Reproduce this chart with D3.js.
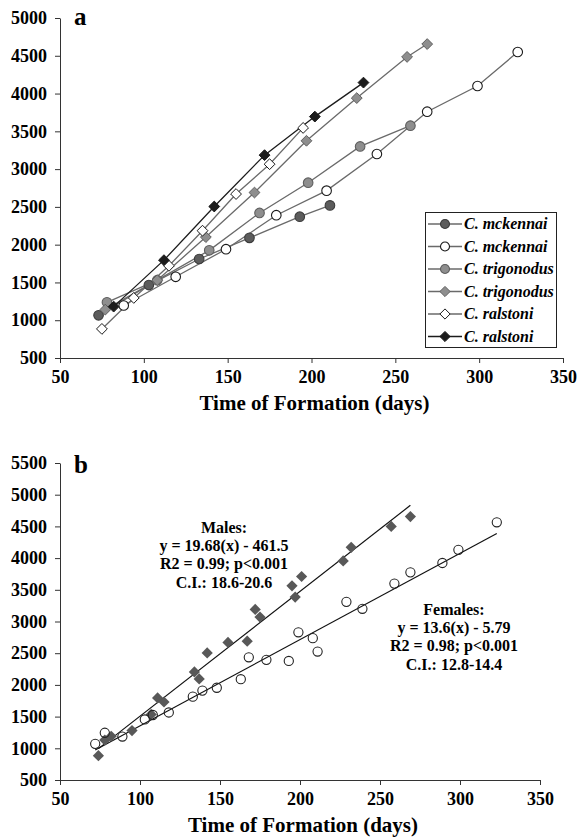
<!DOCTYPE html>
<html>
<head>
<meta charset="utf-8">
<script src="https://cdn.jsdelivr.net/npm/d3@7"></script>
<style>
  body { margin: 0; background: #fff; }
  svg { display: block; font-family: "Liberation Serif", "Times New Roman", serif; }
  svg text { font-family: "Liberation Serif", "Times New Roman", serif; }
</style>
</head>
<body>
<svg id="chart" width="577" height="839"></svg>
<script>
// ---- data ----
// panel a: growth series, [days, value]
const mckennaiFilled = [[73,1065],[103,1465],[133,1810],[163,2090],[193,2370],[211,2520]];
const mckennaiOpen = [[88,1195],[119,1575],[149,1940],[179,2390],[209,2715],[239,3200],[269,3760],[299,4100],[323,4550]];
const trigonodusCircle = [[78,1237],[108,1530],[139,1925],[169,2420],[198,2820],[229,3300],[259,3575]];
const trigonodusDiamond = [[77,1140],[108,1530],[137,2100],[166,2690],[197,3375],[227,3940],[257,4485],[269,4655]];
const ralstoniOpen = [[75,885],[94,1295],[115,1720],[135,2185],[155,2670],[175,3065],[195,3545]];
const ralstoniFilled = [[82,1180],[112,1795],[142,2505],[172,3185],[202,3695],[231,4145]];
const legendNames = ["C. mckennai","C. mckennai","C. trigonodus","C. trigonodus","C. ralstoni","C. ralstoni"];

// panel b: pooled males / females with fitted lines
const males = [[74,884],[78,1130],[82,1190],[95,1280],[107,1535],[111,1795],[115,1730],[134,2205],[137,2095],[142,2505],
  [155,2670],[167,2690],[172,3190],[175,3070],[195,3563],[197,3385],[201,3710],[227,3955],[232,4170],[257,4500],[269,4655]];
const females = [[72,1070],[78,1245],[89,1185],[103,1455],[108,1525],[118,1565],[133,1815],[139,1910],[148,1955],[163,2090],
  [168,2435],[179,2395],[193,2378],[199,2830],[208,2737],[211,2526],[229,3310],[239,3200],[259,3598],[269,3775],
  [289,3923],[299,4130],[323,4565]];
const maleFit = [19.68, -461.5];
const femaleFit = [13.6, -5.79];
const maleText = ["Males:", "y = 19.68(x) - 461.5", "R2 = 0.99; p<0.001", "C.I.: 18.6-20.6"];
const femaleText = ["Females:", "y = 13.6(x) - 5.79", "R2 = 0.98; p<0.001", "C.I.: 12.8-14.4"];

const xTicks = [50,100,150,200,250,300,350];
const yTicksA = d3.range(500, 5001, 500);
const yTicksB = d3.range(500, 5501, 500);
const xTitle = "Time of Formation (days)";

// ---- styles ----
const seriesA = [mckennaiFilled, mckennaiOpen, trigonodusCircle, trigonodusDiamond, ralstoniOpen, ralstoniFilled];
const shapes = ["circle","circle","circle","diamond","diamond","diamond"];
const fills = ["#5c5c5c","#ffffff","#8e8e8e","#8e8e8e","#ffffff","#1c1c1c"];
const strokes = ["#3c3c3c","#1a1a1a","#5e5e5e","#5e5e5e","#1a1a1a","#1a1a1a"];
const lineCols = ["#6a6a6a","#6a6a6a","#6a6a6a","#6a6a6a","#6a6a6a","#1c1c1c"];

const svg = d3.select("#chart");

function diamond(s) {
  return "M0," + (-s) + "L" + s + ",0L0," + s + "L" + (-s) + ",0Z";
}

function marker(g, shape, fill, stroke, size) {
  if (shape == "circle") {
    g.append("circle").attr("r", size).attr("fill", fill).attr("stroke", stroke).attr("stroke-width", 1.1);
  } else {
    g.append("path").attr("d", diamond(size + 0.6)).attr("fill", fill).attr("stroke", stroke).attr("stroke-width", 1);
  }
}

function drawAxes(x, y, yTicks, label, labelY) {
  const xAxis = svg.append("g")
    .attr("transform", "translate(0," + y.range()[0] + ")")
    .call(d3.axisBottom(x).tickValues(xTicks).tickFormat(d3.format("d"))
      .tickSize(5).tickSizeOuter(0).tickPadding(7));
  const yAxis = svg.append("g")
    .attr("transform", "translate(" + x.range()[0] + ",0)")
    .call(d3.axisLeft(y).tickValues(yTicks).tickFormat(d3.format("d"))
      .tickSize(5).tickSizeOuter(0).tickPadding(8));
  [xAxis, yAxis].forEach(function(a) {
    a.attr("font-family", null).attr("font-size", null);
    a.select(".domain").attr("stroke", "#333");
    a.selectAll(".tick line").attr("stroke", "#333");
    a.selectAll("text").attr("fill", "#000").style("font-size", "18px").style("font-weight", "bold");
  });
  svg.append("text")
    .attr("x", (x.range()[0] + x.range()[1]) / 2 + 3)
    .attr("y", y.range()[0] + 52)
    .attr("text-anchor", "middle")
    .style("font-size", "21px").style("font-weight", "bold")
    .text(xTitle);
  svg.append("text")
    .attr("x", 74).attr("y", labelY)
    .style("font-size", "25px").style("font-weight", "bold")
    .text(label);
}

// ---- panel a ----
const xA = d3.scaleLinear().domain([50, 350]).range([60, 563]);
const yA = d3.scaleLinear().domain([500, 5000]).range([358, 18]);
drawAxes(xA, yA, yTicksA, "a", 25);

const lineA = d3.line().x(function(d) { return xA(d[0]); }).y(function(d) { return yA(d[1]); });

seriesA.forEach(function(s, i) {
  svg.append("path").attr("d", lineA(s)).attr("fill", "none")
    .attr("stroke", lineCols[i]).attr("stroke-width", 1.3);
});
seriesA.forEach(function(s, i) {
  s.forEach(function(d) {
    const g = svg.append("g").attr("transform", "translate(" + xA(d[0]) + "," + yA(d[1]) + ")");
    marker(g, shapes[i], fills[i], strokes[i], 4.8);
  });
});

// legend
const legend = svg.append("g");
legend.append("rect").attr("x", 425.5).attr("y", 212.5).attr("width", 131).attr("height", 135)
  .attr("fill", "#fff").attr("stroke", "#222").attr("stroke-width", 1);
legendNames.forEach(function(n, i) {
  const yy = 224 + i * 22.5;
  legend.append("line").attr("x1", 428).attr("x2", 462).attr("y1", yy).attr("y2", yy)
    .attr("stroke", lineCols[i]).attr("stroke-width", 1.3);
  const g = legend.append("g").attr("transform", "translate(445," + yy + ")");
  marker(g, shapes[i], fills[i], strokes[i], 4.5);
  legend.append("text").attr("x", 464).attr("y", yy).attr("dy", "0.33em")
    .style("font-size", "16px").style("font-weight", "bold").style("font-style", "italic")
    .text(n);
});

// ---- panel b ----
const xB = d3.scaleLinear().domain([50, 350]).range([60, 540]);
const yB = d3.scaleLinear().domain([500, 5500]).range([780, 463]);
drawAxes(xB, yB, yTicksB, "b", 473);

function fitLine(pts, fit) {
  const ext = d3.extent(pts, function(d) { return d[0]; });
  svg.append("line")
    .attr("x1", xB(ext[0])).attr("y1", yB(fit[0] * ext[0] + fit[1]))
    .attr("x2", xB(ext[1])).attr("y2", yB(fit[0] * ext[1] + fit[1]))
    .attr("stroke", "#111").attr("stroke-width", 1.2);
}
fitLine(males, maleFit);
fitLine(females, femaleFit);

svg.append("g").selectAll("path").data(males).enter().append("path")
  .attr("transform", function(d) { return "translate(" + xB(d[0]) + "," + yB(d[1]) + ")"; })
  .attr("d", diamond(5.6))
  .attr("fill", "#585858");

svg.append("g").selectAll("circle").data(females).enter().append("circle")
  .attr("cx", function(d) { return xB(d[0]); })
  .attr("cy", function(d) { return yB(d[1]); })
  .attr("r", 4.6)
  .attr("fill", "none").attr("stroke", "#222").attr("stroke-width", 1.1);

function annot(lines, cx, y0) {
  lines.forEach(function(t, i) {
    svg.append("text").attr("x", cx).attr("y", y0 + i * 18.3).attr("dy", "0.35em")
      .attr("text-anchor", "middle")
      .style("font-size", "16px").style("font-weight", "bold")
      .text(t);
  });
}
annot(maleText, 224, 527);
annot(femaleText, 454, 609);
</script>
</body>
</html>
